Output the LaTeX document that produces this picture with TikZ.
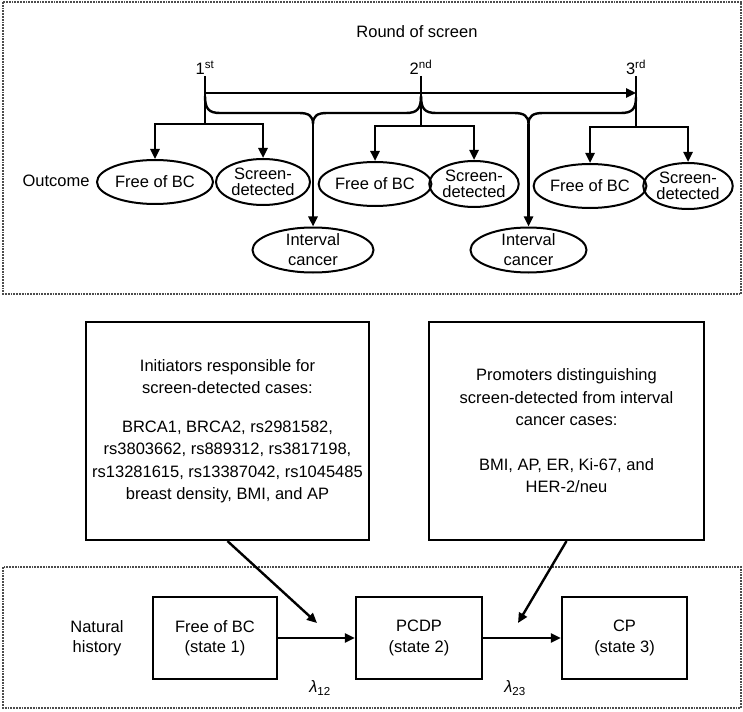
\documentclass[tikz,border=0pt]{standalone}
\usepackage{fontspec}
\setmainfont{Liberation Sans}
\usetikzlibrary{shapes.geometric}
\usetikzlibrary{arrows.meta}

\tikzset{
  outcome/.style={draw, ellipse, line width=2pt, inner xsep=0pt, inner ysep=0pt,
    align=center, font=\fontsize{16.5}{16}\selectfont},
  statebox/.style={draw, line width=2.2pt, minimum height=82pt, align=center},
  factorbox/.style={draw, line width=2.2pt, minimum height=218pt, align=center,
    font=\fontsize{16.5}{22.5}\selectfont},
  arr/.style={line width=2.4pt, -{Triangle[length=10pt, width=9pt]}},
  bar/.style={line width=2.4pt},
  panel/.style={line width=1.8pt, black!70, densely dotted},
}

\begin{document}
\begin{tikzpicture}[x=1pt, y=-1pt, font=\fontsize{16.5}{20.5}\selectfont]
    \useasboundingbox (0,0) rectangle (743,711);

    % dotted panels
    \draw[panel] (3,2) rectangle (741,294);
    \draw[panel] (3,567) rectangle (741,708);

    % rounds of screen
    \node (title) at (417,32) {Round of screen};
    \coordinate (r1) at (205,76);
    \coordinate (r2) at (421,76);
    \coordinate (r3) at (636,76);
    \node[anchor=south, inner sep=1pt] (n1) at (r1) {1\textsuperscript{st}};
    \node[anchor=south, inner sep=1pt] (n2) at (r2) {2\textsuperscript{nd}};
    \node[anchor=south, inner sep=1pt] (n3) at (r3) {3\textsuperscript{rd}};

    % outcomes
    \node[outcome, minimum width=116pt, minimum height=44pt] (fb1) at (155,182) {Free of BC};
    \node[outcome, minimum width=94pt, minimum height=46pt] (sd1) at (263,182) {Screen-\\detected};
    \node[outcome, minimum width=109pt, minimum height=44pt] (fb2) at (375,184) {Free of BC};
    \node[outcome, minimum width=88pt, minimum height=46pt] (sd2) at (474,184) {Screen-\\detected};
    \node[outcome, minimum width=109pt, minimum height=44pt] (fb3) at (590,186) {Free of BC};
    \node[outcome, minimum width=88pt, minimum height=46pt] (sd3) at (688,186) {Screen-\\detected};
    \node[outcome, minimum width=121pt, minimum height=45pt, inner ysep=-2pt,
      font=\fontsize{16.5}{20}\selectfont] (ic1) at (313,250) {Interval\\cancer};
    \node[outcome, minimum width=116pt, minimum height=45pt, inner ysep=-2pt,
      font=\fontsize{16.5}{20}\selectfont] (ic2) at (528.5,250) {Interval\\cancer};
    \node (outc) at (56,181) {Outcome};

    % time axis
    \coordinate (a1) at (205,93);
    \coordinate (a3) at (636,93);
    \draw[arr] (a1) -- (a3);

    % ticks and branches
    \coordinate (b1) at (205,124);
    \coordinate (b2) at (421,126);
    \coordinate (b3) at (636,127);
    \draw[bar] (r1) -- (b1);
    \draw[bar] (r2) -- (b2);
    \draw[bar] (r3) -- (b3);
    \draw[arr] (b1) -| (fb1.north);
    \draw[arr] (b1) -| (sd1.north);
    \draw[arr] (b2) -| (fb2.north);
    \draw[arr] (b2) -| (sd2.north);
    \draw[arr] (b3) -| (fb3.north);
    \draw[arr] (b3) -| (sd3.north);

    % braces between rounds
    \coordinate (k1) at (313,124);
    \coordinate (k2) at (528.5,124);
    \draw[bar] (205,96) .. controls (205,109) and (209,113) .. (220,113) -- (299,113)
      .. controls (309,113) and (313,116) .. (k1)
      .. controls (313,116) and (317,113) .. (327,113) -- (406,113)
      .. controls (417,113) and (421,109) .. (421,96);
    \draw[bar] (421,96) .. controls (421,109) and (425,113) .. (436,113) -- (514,113)
      .. controls (524,113) and (528.5,116) .. (k2)
      .. controls (528.5,116) and (533,113) .. (543,113) -- (621,113)
      .. controls (632,113) and (636,109) .. (636,97);
    \draw[arr] (k1) -- (ic1.north);
    \draw[arr] (k2) -- (ic2.north);

    % initiators and promoters
    \node[factorbox, minimum width=283pt] (init) at (227.5,431)
      {Initiators responsible for\\
       screen-detected cases:\\[16pt]
       BRCA1, BRCA2, rs2981582,\\
       rs3803662, rs889312, rs3817198,\\
       rs13281615, rs13387042, rs1045485\\
       breast density, BMI, and AP};
    \node[factorbox, minimum width=275pt] (prom) at (566.5,431)
      {Promoters distinguishing\\
       screen-detected from interval\\
       cancer cases:\\[22pt]
       BMI, AP, ER, Ki-67, and\\
       HER-2/neu};

    % natural history
    \node[align=center] (nat) at (97,638) {Natural\\history};
    \node[statebox, minimum width=124pt] (s1) at (215,638) {Free of BC\\(state 1)};
    \node[statebox, minimum width=126pt] (s2) at (419,638) {PCDP\\(state 2)};
    \node[statebox, minimum width=125pt] (s3) at (624.5,638) {CP\\(state 3)};
    \draw[arr] (s1) -- (s2);
    \draw[arr] (s2) -- (s3);

    % rates
    \coordinate (t12) at (317,623);
    \coordinate (t23) at (518,623);
    \draw[arr] (init.south) -- (t12);
    \draw[arr] (prom.south) -- (t23);
    \node (l12) at (320,688) {\textit{λ}\textsubscript{12}};
    \node (l23) at (515,688) {\textit{λ}\textsubscript{23}};
\end{tikzpicture}
\end{document}
